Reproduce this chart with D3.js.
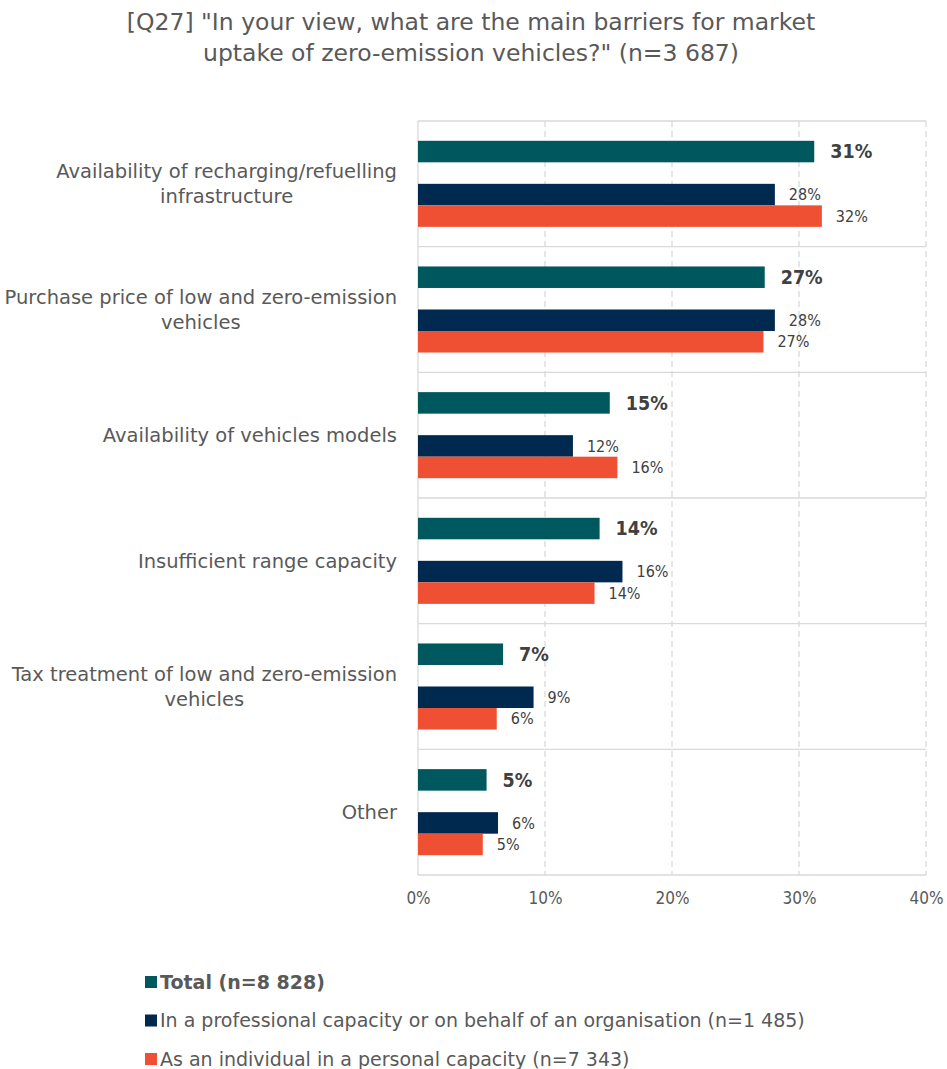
<!DOCTYPE html>
<html>
<head>
<meta charset="utf-8">
<script src="https://cdn.jsdelivr.net/npm/d3@7"></script>
<style>
  body { margin: 0; background: #fff; }
  text { font-family: Tahoma, "DejaVu Sans", sans-serif; }
  .num { font-family: Tahoma, "DejaVu Sans Condensed", sans-serif; }
</style>
</head>
<body>
<div id="chart"></div>
<script>
// Data
var categories = [
  ["Availability of recharging/refuelling", "infrastructure"],
  ["Purchase price of low and zero-emission", "vehicles"],
  ["Availability of vehicles models"],
  ["Insufficient range capacity"],
  ["Tax treatment of low and zero-emission", "vehicles"],
  ["Other"]
];
var seriesNames = [
  "Total (n=8 828)",
  "In a professional capacity or on behalf of an organisation (n=1 485)",
  "As an individual in a personal capacity (n=7 343)"
];
var totalValues        = [0.312, 0.273, 0.151, 0.143, 0.067, 0.054];
var professionalValues = [0.281, 0.281, 0.122, 0.161, 0.091, 0.063];
var individualValues   = [0.318, 0.272, 0.157, 0.139, 0.062, 0.051];
var xTicks = [0, 0.1, 0.2, 0.3, 0.4];
var colors = ["#00585f", "#00294f", "#ef4f33"];

chart();

function chart() {
  var svg = d3.select("#chart")
              .append("svg")
              .attr("width", 947)
              .attr("height", 1069);

  var margin = {top: 121, right: 21, bottom: 194, left: 418},
      width = 947 - margin.left - margin.right,
      height = 1069 - margin.top - margin.bottom;

  // Title
  svg.append("text")
      .attr("x", 471)
      .attr("text-anchor", "middle")
      .attr("fill", "#595959")
      .style("font-size", "23.5px")
      .selectAll("tspan")
      .data(['[Q27] "In your view, what are the main barriers for market',
             'uptake of zero-emission vehicles?" (n=3 687)'])
      .enter().append("tspan")
        .attr("x", 471)
        .attr("y", function(d, i) { return 30 + i * 31; })
        .text(function(d) { return d; });

  var g = svg.append("g")
      .attr("transform", "translate(" + margin.left + "," + margin.top + ")");

  // Scales
  var y = d3.scaleBand().domain(d3.range(categories.length)).range([0, height]);
  // a blank slot sits between the total bar and the two sub-group bars
  var y1 = d3.scaleBand().domain(["total", "blank", "professional", "individual"])
      .range([0, y.bandwidth()]).paddingOuter(0.92);
  var x = d3.scaleLinear().domain([0, 0.4]).range([0, width]);

  // Vertical dashed gridlines
  g.selectAll(".grid")
    .data(xTicks.slice(1))
    .enter().append("line")
      .attr("x1", function(d) { return x(d); })
      .attr("x2", function(d) { return x(d); })
      .attr("y1", 0)
      .attr("y2", height)
      .attr("stroke", "#d9d9d9")
      .attr("stroke-width", 1.3)
      .attr("stroke-dasharray", "6,4");

  // Horizontal category separators
  g.selectAll(".sep")
    .data(d3.range(categories.length + 1))
    .enter().append("line")
      .attr("x1", 0)
      .attr("x2", width)
      .attr("y1", function(d) { return d === categories.length ? height : y(d); })
      .attr("y2", function(d) { return d === categories.length ? height : y(d); })
      .attr("stroke", "#d9d9d9")
      .attr("stroke-width", 1.3);

  // Left axis line
  g.append("line")
      .attr("x1", 0).attr("x2", 0)
      .attr("y1", 0).attr("y2", height)
      .attr("stroke", "#d9d9d9")
      .attr("stroke-width", 1.3);

  // Bottom axis labels
  var xAxis = g.append("g")
      .attr("transform", "translate(0," + height + ")")
      .call(d3.axisBottom(x).tickValues(xTicks).tickFormat(d3.format(".0%")).tickSize(0).tickPadding(17));
  xAxis.select(".domain").remove();
  xAxis.selectAll("text")
      .attr("class", "num")
      .attr("fill", "#595959")
      .style("font-family", "Tahoma, 'DejaVu Sans Condensed', sans-serif")
      .style("font-size", "17px");

  // Category labels: lines centred on each other, block right aligned
  categories.forEach(function(lines, i) {
    var t = svg.append("text")
        .attr("fill", "#595959")
        .style("font-size", "19.5px")
        .attr("text-anchor", "middle");
    var cy = margin.top + y(i) + y.bandwidth() / 2;
    var spans = t.selectAll("tspan")
      .data(lines)
      .enter().append("tspan")
        .attr("y", function(d, j) { return cy + 7 + (j - (lines.length - 1) / 2) * 25; })
        .text(function(d) { return d; });
    var maxW = 0;
    spans.each(function() { maxW = Math.max(maxW, this.getComputedTextLength()); });
    spans.attr("x", 397 - maxW / 2);
  });

  var fmt = d3.format(".0%");
  var series = [
    {key: "total", values: totalValues, color: colors[0], bold: true},
    {key: "professional", values: professionalValues, color: colors[1], bold: false},
    {key: "individual", values: individualValues, color: colors[2], bold: false}
  ];

  series.forEach(function(s) {
    var sg = g.append("g");
    sg.selectAll("rect")
      .data(s.values)
      .enter().append("rect")
        .attr("x", 0)
        .attr("y", function(d, i) { return y(i) + y1(s.key); })
        .attr("width", function(d) { return x(d); })
        .attr("height", y1.bandwidth())
        .attr("fill", s.color);

    sg.selectAll("text")
      .data(s.values)
      .enter().append("text")
        .attr("class", "num")
        .attr("x", function(d) { return x(d) + (s.bold ? 16 : 14); })
        .attr("y", function(d, i) { return y(i) + y1(s.key) + y1.bandwidth() / 2; })
        .attr("dy", "0.35em")
        .attr("fill", "#404040")
        .style("font-size", s.bold ? "19.5px" : "16px")
        .style("font-weight", s.bold ? "bold" : "normal")
        .text(function(d) { return fmt(d); });
  });

  // Legend
  var legend = svg.selectAll(".legend")
    .data(seriesNames)
    .enter().append("g")
      .attr("transform", function(d, i) { return "translate(145," + (982 + i * 38.5) + ")"; });
  legend.append("rect")
      .attr("x", 0).attr("y", -6)
      .attr("width", 12).attr("height", 12)
      .attr("fill", function(d, i) { return colors[i]; });
  legend.append("text")
      .attr("x", 15)
      .attr("dy", "0.35em")
      .attr("fill", "#595959")
      .style("font-size", "19px")
      .style("font-weight", function(d, i) { return i === 0 ? "bold" : "normal"; })
      .text(function(d) { return d; });
}
</script>
</body>
</html>
